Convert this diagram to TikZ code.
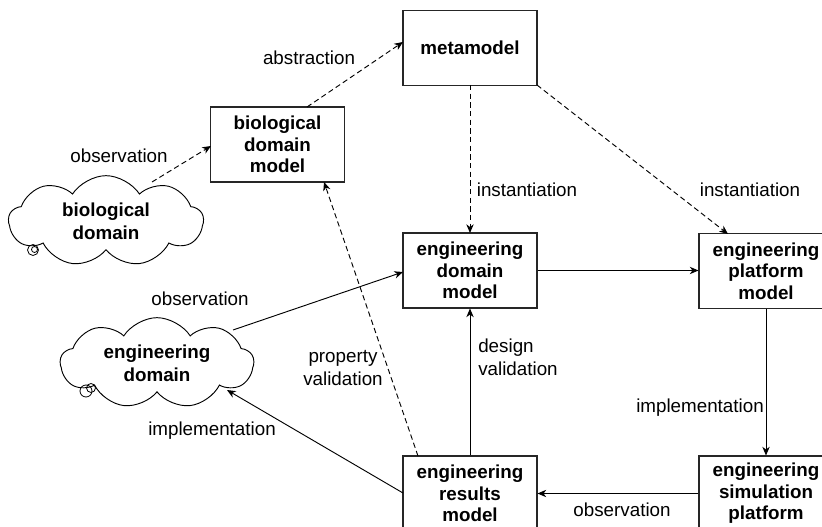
\documentclass[tikz,border=0pt]{standalone}
\usepackage{fontspec}
\setmainfont{Liberation Sans}
\usetikzlibrary{arrows.meta,shapes.symbols}
\begin{document}
\begin{tikzpicture}[x=0.75pt,y=-0.75pt,
  box/.style={draw=black!85,line width=0.8pt,minimum width=100.5pt,minimum height=56.25pt,align=center,font=\fontsize{14.1}{16.1}\selectfont\bfseries,inner sep=0pt},
  thought/.style={cloud,draw=black,line width=0.7pt,cloud puffs=9,cloud puff arc=115,cloud ignores aspect,align=center,font=\fontsize{14.1}{17}\selectfont\bfseries,inner sep=0pt},
  lbl/.style={font=\fontsize{14.1}{17}\selectfont,align=center,inner sep=0pt},
  conn/.style={line width=0.7pt,-{Stealth[length=6.5pt,width=5.5pt,inset=2pt]}},
  dconn/.style={conn,dash pattern=on 4pt off 2.5pt},
  bubble/.style={draw=black,line width=0.6pt}]
\useasboundingbox (0,0) rectangle (822,527);
\clip (0,0) rectangle (822,527);
\fill[white] (0,0) rectangle (822,527);
% boxes
\node[box] (meta) at (470,48) {metamodel};
\node[box] (bdm) at (277.5,144.5) {biological\\domain\\model};
\node[box] (edm) at (470,270.5) {engineering\\domain\\model};
\node[box] (epm) at (766,271) {engineering\\platform\\model};
\node[box] (erm) at (470,493.5) {engineering\\results\\model};
\node[box] (esp) at (766,493.5) {engineering\\simulation\\platform};
% clouds
\node[thought,minimum width=146pt,minimum height=68pt] (bd) at (106,221) {biological\\domain};
\node[thought,minimum width=145pt,minimum height=68pt] (ed) at (157,363) {engineering\\domain};
\draw[bubble] (33,250) circle (5.5);
\draw[bubble] (34.5,249.5) circle (3);
\draw[bubble] (86,391) circle (6);
\draw[bubble] (91,388) circle (4.5);
% coordinates for connector ends
\coordinate (bdA) at (152,182);
\coordinate (bdmL) at (211,146);
\coordinate (bdmT) at (307,107);
\coordinate (metaL) at (403,42);
\coordinate (metaB) at (470,85);
\coordinate (metaBR) at (537,85);
\coordinate (edmT) at (470,233);
\coordinate (epmT) at (728,234);
\coordinate (edA) at (233,330);
\coordinate (edmL) at (403,272);
\coordinate (ermT) at (418,456);
\coordinate (bdmB) at (324,182);
\coordinate (ermL) at (403,493);
\coordinate (edB) at (227,390);
% connectors
\draw[dconn] (bdA) -- (bdmL);
\draw[dconn] (bdmT) -- (metaL);
\draw[dconn] (metaB) -- (edmT);
\draw[dconn] (metaBR) -- (epmT);
\draw[conn] (edm.east |- 0,270.5) -- (epm.west |- 0,270.5);
\draw[conn] (edA) -- (edmL);
\draw[dconn] (ermT) -- (bdmB);
\draw[conn] (erm.north) -- (edm.south);
\draw[conn] (ermL) -- (edB);
\draw[conn] (epm.south) -- (esp.north);
\draw[conn] (esp.west) -- (erm.east);
% labels
\node[lbl] (l1) at (309,58) {abstraction};
\node[lbl] (l2) at (119,156) {observation};
\node[lbl] (l3) at (527,190) {instantiation};
\node[lbl] (l4) at (750,190) {instantiation};
\node[lbl] (l5) at (200,299) {observation};
\node[lbl] (l6) at (343,368) {property\\validation};
\node[lbl,align=left] (l7) at (518,357) {design\\validation};
\node[lbl] (l8) at (700,408) {implementation};
\node[lbl] (l9) at (212,431) {implementation};
\node[lbl] (l10) at (622,510) {observation};
\end{tikzpicture}
\end{document}
